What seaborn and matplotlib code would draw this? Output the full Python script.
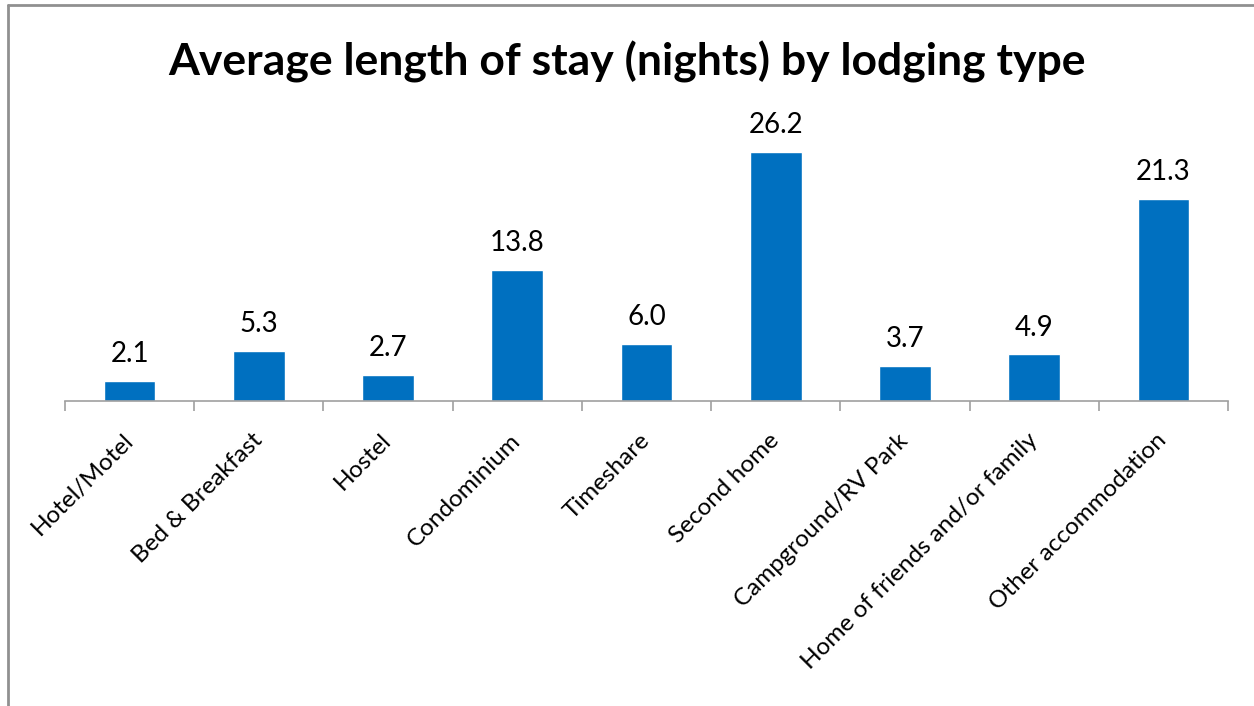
import matplotlib
matplotlib.use("Agg")
import matplotlib.pyplot as plt
import seaborn as sns
import pandas as pd
from matplotlib.lines import Line2D

# data
lodging = ["Hotel/Motel", "Bed & Breakfast", "Hostel", "Condominium", "Timeshare",
           "Second home", "Campground/RV Park", "Home of friends and/or family",
           "Other accommodation"]
nights = [2.1, 5.3, 2.7, 13.8, 6.0, 26.2, 3.7, 4.9, 21.3]

df = pd.DataFrame({"lodging": lodging, "nights": nights})

sns.set_style("white")
plt.rcParams["font.family"] = ["Lato", "DejaVu Sans"]
plt.rcParams["text.color"] = "black"
plt.rcParams["xtick.color"] = "black"

fig = plt.figure(figsize=(12.54, 7.06), dpi=100)
ax = fig.add_axes([65 / 1254, 1 - 401 / 706, 1163 / 1254, 285 / 706])

sns.barplot(data=df, x="lodging", y="nights", color="#0070C0", width=0.4,
            saturation=1, ax=ax)

ax.set_ylim(0, 30)
ax.set_xlim(-0.5, len(lodging) - 0.5)
ax.set_xlabel("")
ax.set_ylabel("")
ax.set_yticks([])

for s in ["top", "right", "left"]:
    ax.spines[s].set_visible(False)
ax.spines["bottom"].set_color("#A0A0A0")
ax.spines["bottom"].set_linewidth(1.2)

# ticks at category boundaries
ax.set_xticks([i - 0.5 for i in range(len(lodging) + 1)], minor=True)
ax.tick_params(axis="x", which="minor", direction="out", length=7, width=1.2,
               color="#A0A0A0", bottom=True)
ax.tick_params(axis="x", which="major", length=0, pad=26)
ax.set_xticks(range(len(lodging)))
ax.set_xticklabels(lodging, rotation=45, ha="right", va="center",
                   rotation_mode="anchor", fontsize=17.5, color="black")

for i, v in enumerate(nights):
    ax.annotate(f"{v:.1f}", (i, v), xytext=(0, 10), textcoords="offset points",
                ha="center", va="bottom", fontsize=20)

fig.text(0.5, 1 - 62 / 706, "Average length of stay (nights) by lodging type",
         ha="center", va="center", fontsize=32, fontweight="bold", color="black")

# chart frame (left and top edges visible)
fig.add_artist(Line2D([8 / 1254, 8 / 1254], [0, 1 - 5 / 706], color="#909090", lw=2))
fig.add_artist(Line2D([8 / 1254, 1], [1 - 5 / 706, 1 - 5 / 706], color="#909090", lw=2))

fig.savefig("out.png", dpi=100)
